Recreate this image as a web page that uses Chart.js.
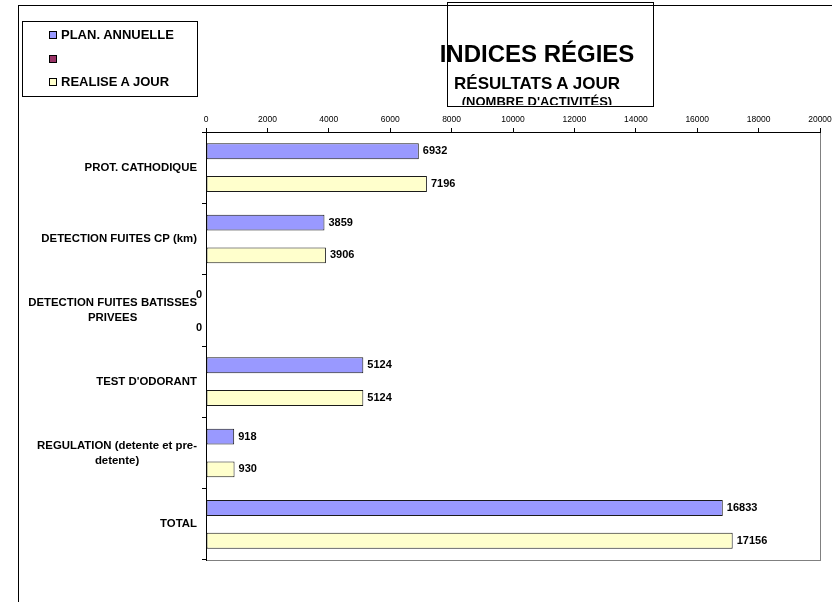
<!DOCTYPE html>
<html>
<head>
<meta charset="utf-8">
<title>Indices régies</title>
<script src="https://cdn.jsdelivr.net/npm/chart.js@4.4.1/dist/chart.umd.min.js"></script>
<style>
    body { margin: 0; background: #fff; font-family: "Liberation Sans", Arial, sans-serif; }
    #wrap { position: relative; width: 832px; height: 602px; overflow: hidden; }
    #cadre { position: absolute; left: 18px; top: 5px; width: 900px; height: 700px; border: 1px solid #000; }
    #graphe { position: absolute; left: 0; top: 0; }
    #titre-clip { position: absolute; left: 380px; top: 0; width: 314px; height: 105px; overflow: hidden; }
    .titre { position: absolute; left: 0; width: 314px; text-align: center; font-weight: bold; line-height: 1; white-space: nowrap; color: #000; }
    #titre-boite { position: absolute; left: 447px; top: 2px; width: 207px; height: 105px; box-sizing: border-box; border: 1px solid #000; }
    #legende { position: absolute; left: 22px; top: 21px; width: 176px; height: 76px; box-sizing: border-box; border: 1px solid #000; }
    .leg-carre { position: absolute; left: 26px; width: 8px; height: 8px; box-sizing: border-box; border: 1px solid #000; }
    .leg-texte { position: absolute; left: 38px; font-size: 13px; font-weight: bold; line-height: 1; white-space: nowrap; }
</style>
</head>
<body>
<div id="wrap">
    <div id="cadre"></div>
    <canvas id="graphe" width="832" height="602"></canvas>
    <div id="titre-clip">
        <div class="titre" style="top:41.7px; font-size:24px;">INDICES RÉGIES</div>
        <div class="titre" style="top:74.6px; font-size:17px;">RÉSULTATS A JOUR</div>
        <div class="titre" style="top:95px; font-size:13px;">(NOMBRE D'ACTIVITÉS)</div>
    </div>
    <div id="titre-boite"></div>
    <div id="legende"></div>
</div>
<script>
// Données

const categories = [
    'PROT. CATHODIQUE',
    'DETECTION FUITES CP (km)',
    ['DETECTION FUITES BATISSES', 'PRIVEES'],
    "TEST D'ODORANT",
    ['REGULATION (detente et pre-', 'detente)'],
    'TOTAL'
];

const planAnnuelle = [6932, 3859, 0, 5124, 918, 16833];
const serieVide = [null, null, null, null, null, null];
const realiseAJour = [7196, 3906, 0, 5124, 930, 17156];

const xMin = 0;
const xMax = 20000;
const xPas = 2000;

// Cadre du plot (droite + bas en gris)
const fondPlot = {
    id: 'fondPlot',
    beforeDraw(chart) {
        const a = chart.chartArea;
        const ctx = chart.ctx;
        ctx.save();
        ctx.strokeStyle = '#808080';
        ctx.lineWidth = 1;
        ctx.strokeRect(Math.round(a.left) + 0.5, Math.round(a.top) + 0.5, Math.round(a.right - a.left), Math.round(a.bottom - a.top));
        ctx.restore();
    }
};

// Valeurs sur les barres + libellés des catégories
const etiquettes = {
    id: 'etiquettes',
    afterDatasetsDraw(chart) {
        const ctx = chart.ctx;
        ctx.save();
        ctx.fillStyle = '#000';
        ctx.textBaseline = 'middle';
        ctx.font = 'bold 11px "Liberation Sans"';
        chart.data.datasets.forEach(function(ds, i) {
            if (!ds.label) return;
            chart.getDatasetMeta(i).data.forEach(function(bar, j) {
                const v = ds.data[j];
                if (v === null) return;
                if (v === 0) {
                    ctx.textAlign = 'right';
                    ctx.fillText('0', bar.x - 4, bar.y + 1);
                } else {
                    ctx.textAlign = 'left';
                    ctx.fillText(String(v), bar.x + 4, bar.y);
                }
            });
        });

        const yScale = chart.scales.y;
        ctx.font = 'bold 11.4px "Liberation Sans"';
        ctx.textAlign = 'center';
        const droite = chart.chartArea.left - 9;
        chart.data.labels.forEach(function(lab, i) {
            const lignes = Array.isArray(lab) ? lab : [lab];
            const w = Math.max.apply(null, lignes.map(function(l) { return ctx.measureText(l).width; }));
            const cx = droite - w / 2;
            const yc = yScale.getPixelForTick(i);
            lignes.forEach(function(l, k) {
                ctx.fillText(l, cx, yc + (k - (lignes.length - 1) / 2) * 15);
            });
        });
        ctx.restore();
    }
};

const data = {
    labels: categories,
    datasets: [
        { label: 'PLAN. ANNUELLE', data: planAnnuelle, backgroundColor: '#9999FF' },
        { label: '', data: serieVide, backgroundColor: '#993366' },
        { label: 'REALISE A JOUR', data: realiseAJour, backgroundColor: '#FFFFCC' }
    ]
};

data.datasets.forEach(function(ds) {
    ds.borderColor = '#1a1a1a';
    ds.borderWidth = 1;
    ds.borderSkipped = false;
    ds.barPercentage = 0.97;
    ds.categoryPercentage = 0.69;
});

const config = {
    type: 'bar',
    data: data,
    options: {
        indexAxis: 'y',
        responsive: false,
        animation: false,
        layout: { padding: { left: 196, right: 12, top: 112, bottom: 42 } },
        plugins: {
            legend: { display: false },
            title: { display: false },
            tooltip: { enabled: false }
        },
        scales: {
            x: {
                position: 'top',
                min: xMin,
                max: xMax,
                ticks: {
                    stepSize: xPas,
                    color: '#000',
                    padding: 3,
                    maxRotation: 0,
                    autoSkip: false,
                    font: { family: 'Liberation Sans', size: 8.5 },
                    callback: function(v) { return String(v); }
                },
                grid: { drawOnChartArea: false, drawTicks: true, tickLength: 4, color: '#000' },
                border: { color: '#000' },
                afterFit: function(s) { s.height = 20; s.paddingLeft = 0; s.paddingRight = 0; }
            },
            y: {
                ticks: { display: false },
                grid: { drawOnChartArea: false, drawTicks: true, tickLength: 4, color: '#000', offset: true },
                border: { color: '#000' },
                afterFit: function(s) { s.width = 10; }
            }
        }
    },
    plugins: [fondPlot, etiquettes]
};

const chart = new Chart(document.getElementById('graphe'), config);

// Légende HTML à partir des datasets
const legende = document.getElementById('legende');
const lignesY = [9, 33, 56];
chart.data.datasets.forEach(function(ds, i) {
    const carre = document.createElement('div');
    carre.className = 'leg-carre';
    carre.style.top = lignesY[i] + 'px';
    carre.style.background = ds.backgroundColor;
    legende.appendChild(carre);
    if (ds.label) {
        const txt = document.createElement('div');
        txt.className = 'leg-texte';
        txt.style.top = (lignesY[i] - 3) + 'px';
        txt.textContent = ds.label;
        legende.appendChild(txt);
    }
});
</script>
</body>
</html>
